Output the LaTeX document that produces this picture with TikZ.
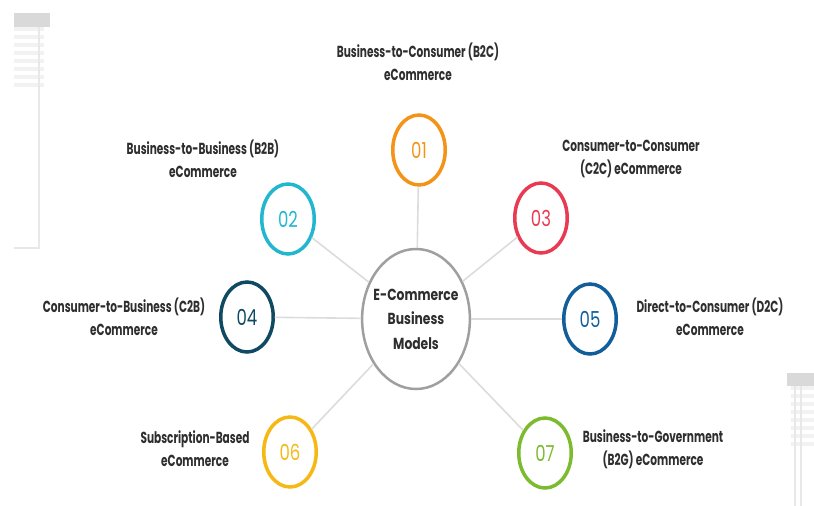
\documentclass[tikz,border=0pt]{standalone}
\usepackage{fontspec}
\setmainfont{Poppins}

\definecolor{txt}{HTML}{2E2E2E}
\definecolor{spk}{HTML}{DCDCDC}
\definecolor{deco}{HTML}{D9D9D9}
\definecolor{cOne}{HTML}{F39419}
\definecolor{cTwo}{HTML}{22B7CF}
\definecolor{cThree}{HTML}{E83A52}
\definecolor{cFour}{HTML}{0F4A62}
\definecolor{cFive}{HTML}{115E9A}
\definecolor{cSix}{HTML}{F5B814}
\definecolor{cSeven}{HTML}{7CBB2F}

\tikzset{
  hub/.style={xscale=.77, circle, draw=gray!75, line width=2.5pt, minimum size=140pt,
    inner sep=0pt, align=center, text=txt, font=\bfseries\fontsize{16}{24.5}\selectfont},
  num/.style={xscale=.75, circle, line width=3.5pt, minimum size=70pt, inner sep=0pt,
    font=\fontsize{22}{22}\selectfont},
  lbl/.style={xscale=.66, align=center, text=txt, font=\bfseries\fontsize{16}{23}\selectfont},
  spoke/.style={draw=spk, line width=1.6pt}
}

\begin{document}
\begin{tikzpicture}[x=1pt,y=-1pt]
\useasboundingbox (0,0) rectangle (814,506);

% side decorations
\fill[deco] (14,13) rectangle (50,27);
\foreach \i in {0,...,7}
  \fill[gray!10] (14,27+8*\i) rectangle (44,31+8*\i);
\draw[gray!18, line width=2pt] (39,27) -- (39,248) -- (14,248);
\fill[deco] (787,373) rectangle (814,386);
\foreach \i in {0,...,7}
  \fill[gray!10] (791,386+8*\i) rectangle (814,390+8*\i);
\draw[gray!18, line width=1.5pt] (795,386) -- (795,506);
\draw[gray!18, line width=1.5pt] (801,386) -- (801,506);

% hub and numbered circles
\node[hub] (hub) at (416,319) {E-Commerce\\Business\\Models};
\node[num, draw=cOne, text=cOne] (n1) at (419,150) {01};
\node[num, draw=cTwo, text=cTwo] (n2) at (288,219) {02};
\node[num, draw=cThree, text=cThree] (n3) at (541,218) {03};
\node[num, draw=cFour, text=cFour] (n4) at (247,317) {04};
\node[num, draw=cFive, text=cFive] (n5) at (590,319) {05};
\node[num, draw=cSix, text=cSix] (n6) at (290,452) {06};
\node[num, draw=cSeven, text=cSeven] (n7) at (545,453) {07};

\foreach \n in {n1,n2,n3,n4,n5,n6,n7}
  \draw[spoke] (hub) -- (\n);

% labels
\node[lbl] (l1) at (418,62) {Business-to-Consumer (B2C)\\eCommerce};
\node[lbl] (l2) at (203,159) {Business-to-Business (B2B)\\eCommerce};
\node[lbl] (l3) at (631,159) {Consumer-to-Consumer\\(C2C) eCommerce};
\node[lbl] (l4) at (124,317) {Consumer-to-Business (C2B)\\eCommerce};
\node[lbl] (l5) at (710,317) {Direct-to-Consumer (D2C)\\eCommerce};
\node[lbl] (l6) at (195,449) {Subscription-Based\\eCommerce};
\node[lbl] (l7) at (653,449) {Business-to-Government\\(B2G) eCommerce};
\end{tikzpicture}
\end{document}
